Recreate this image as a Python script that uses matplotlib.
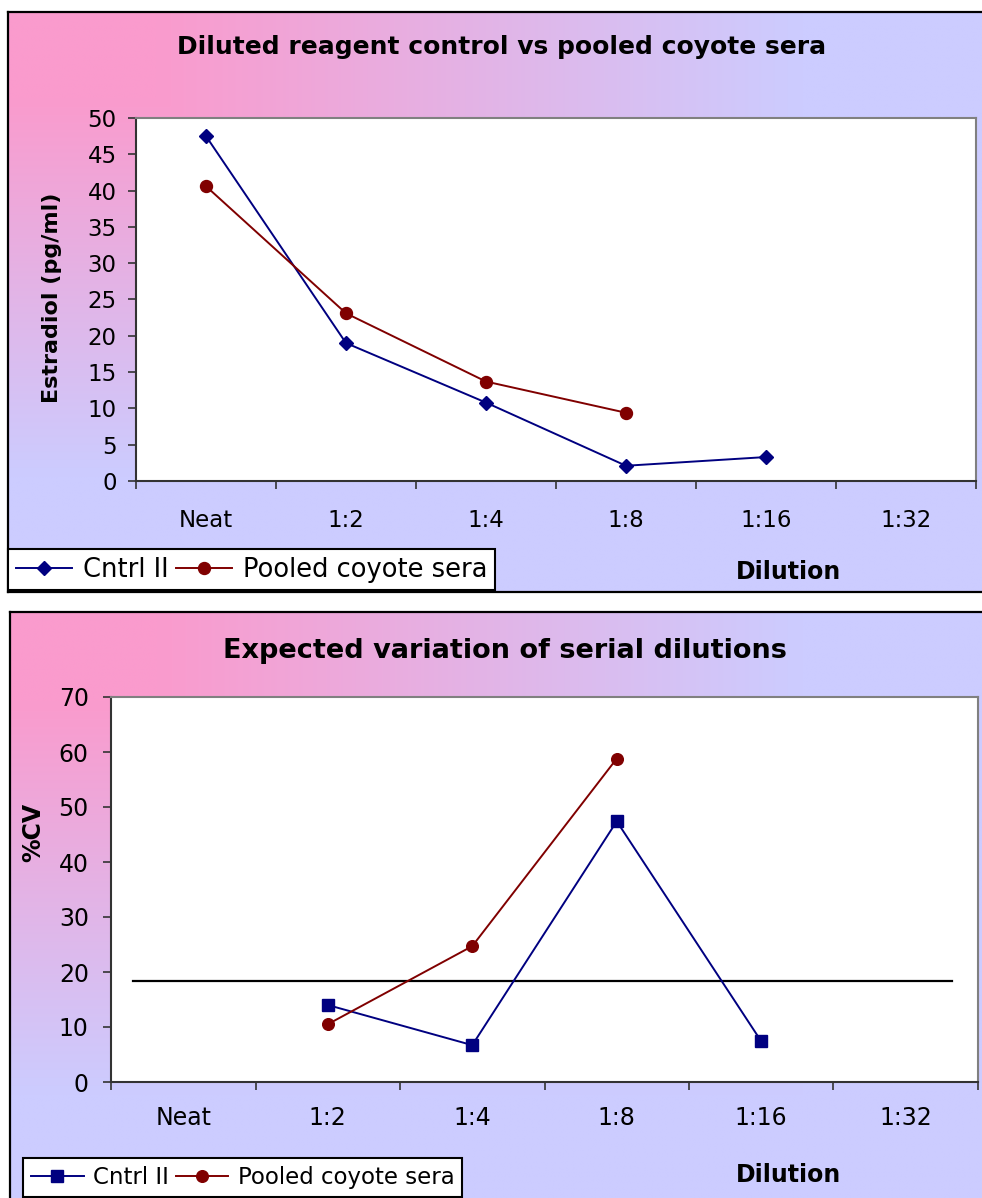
import numpy as np
import matplotlib
matplotlib.use("Agg")
import matplotlib.pyplot as plt
from matplotlib.lines import Line2D

# ---------------- data ----------------
categories = ["Neat", "1:2", "1:4", "1:8", "1:16", "1:32"]

# Panel 1: Estradiol (pg/ml)
cntrl_estradiol = [47.5, 19.0, 10.8, 2.1, 3.3, None]
pooled_estradiol = [40.6, 23.1, 13.7, 9.4, None, None]

# Panel 2: %CV
cntrl_cv = [None, 14.0, 6.7, 47.4, 7.4, None]
pooled_cv = [None, 10.5, 24.7, 58.8, None, None]
cv_limit = 18.3

title1 = "Diluted reagent control vs pooled coyote sera"
title2 = "Expected variation of serial dilutions"
series_names = ["Cntrl II", "Pooled coyote sera"]

NAVY = "#000080"
DARKRED = "#800000"
PINK = np.array([250, 155, 205]) / 255.0
LAV = np.array([204, 204, 255]) / 255.0

W, H = 982, 1198
fig = plt.figure(figsize=(W / 100, H / 100), dpi=100)


def rect(x0, y0, x1, y1):
    return [x0 / W, 1 - y1 / H, (x1 - x0) / W, (y1 - y0) / H]


def background(x0, y0, x1, y1):
    ax = fig.add_axes(rect(x0, y0, x1, y1))
    nx, ny = 400, 300
    xs = np.linspace(0, 1, nx)
    ys = np.linspace(0, 1, ny)
    X, Y = np.meshgrid(xs, ys)
    t = np.clip((np.maximum(X, Y) - 0.15) / 0.65, 0, 1)
    img = PINK[None, None, :] * (1 - t[..., None]) + LAV[None, None, :] * t[..., None]
    ax.imshow(img, extent=[0, 1, 1, 0], aspect="auto", interpolation="bilinear")
    ax.set_xlim(0, 1)
    ax.set_ylim(1, 0)
    ax.set_xticks([])
    ax.set_yticks([])
    for s in ax.spines.values():
        s.set_color("black")
        s.set_linewidth(1.6)
    return ax


def to_arr(v):
    return np.array([np.nan if x is None else x for x in v], dtype=float)


def style_plot(ax, ymax, ystep, fs, ypad, xpad):
    ax.set_facecolor("white")
    ax.set_xlim(-0.5, len(categories) - 0.5)
    ax.set_ylim(0, ymax)
    ax.set_yticks(np.arange(0, ymax + 0.1, ystep))
    ax.set_xticks(np.arange(len(categories)))
    ax.set_xticklabels(categories)
    ax.set_xticks(np.arange(-0.5, len(categories)), minor=True)
    ax.tick_params(axis="x", which="major", length=0, pad=xpad, labelsize=fs)
    ax.tick_params(axis="x", which="minor", length=5.5, width=1.2, direction="out", color="#333333")
    ax.tick_params(axis="y", length=6, width=1.2, direction="out", pad=ypad, labelsize=fs, color="#333333")
    for side in ["left", "bottom"]:
        ax.spines[side].set_color("#333333")
        ax.spines[side].set_linewidth(1.5)
    for side in ["top", "right"]:
        ax.spines[side].set_color("#808080")
        ax.spines[side].set_linewidth(1.5)


x = np.arange(len(categories))

# ---------------- panel 1 ----------------
background(8, 12, 1000, 592)
ax1 = fig.add_axes(rect(136, 118, 976, 481))
style_plot(ax1, 50, 5, 16.5, 8, 20)
ax1.plot(x, to_arr(cntrl_estradiol), color=NAVY, lw=1.4, marker="D", ms=7.4,
         label=series_names[0])
ax1.plot(x[:4], to_arr(pooled_estradiol)[:4], color=DARKRED, lw=1.4, marker="o", ms=8.6,
         label=series_names[1])
fig.text(502 / W, 1 - 47 / H, title1, ha="center", va="center", fontsize=18, fontweight="bold")
fig.text(52 / W, 1 - 298 / H, "Estradiol (pg/ml)", rotation=90, ha="center", va="center",
         fontsize=16, fontweight="bold")
fig.text(789 / W, 1 - 572 / H, "Dilution", ha="center", va="center", fontsize=17, fontweight="bold")
h1 = [Line2D([], [], color=NAVY, lw=1.4, marker="D", ms=7.4),
      Line2D([], [], color=DARKRED, lw=1.4, marker="o", ms=8.6)]
leg1 = ax1.legend(h1, series_names, ncol=2, loc="upper left",
                  bbox_to_anchor=(8 / W, 1 - 549 / H), bbox_transform=fig.transFigure,
                  fontsize=18.5, frameon=True, fancybox=False, framealpha=1, borderaxespad=0,
                  handlelength=2.2, handletextpad=0.4, columnspacing=0.3, borderpad=0.3)
leg1.get_frame().set_edgecolor("black")
leg1.get_frame().set_linewidth(1.5)

# ---------------- panel 2 ----------------
background(10, 612, 1000, 1215)
ax2 = fig.add_axes(rect(111, 697, 978, 1082))
style_plot(ax2, 70, 10, 17, 10, 17)
ax2.plot([-0.35, 5.32], [cv_limit, cv_limit], color="black", lw=1.6)
ax2.plot(x[1:5], to_arr(cntrl_cv)[1:5], color=NAVY, lw=1.4, marker="s", ms=8.3)
ax2.plot(x[1:4], to_arr(pooled_cv)[1:4], color=DARKRED, lw=1.4, marker="o", ms=8.4)
fig.text(505 / W, 1 - 651 / H, title2, ha="center", va="center", fontsize=19.5, fontweight="bold")
fig.text(33 / W, 1 - 832 / H, "%CV", rotation=90, ha="center", va="center",
         fontsize=17, fontweight="bold")
fig.text(789 / W, 1 - 1175 / H, "Dilution", ha="center", va="center", fontsize=17, fontweight="bold")
h2 = [Line2D([], [], color=NAVY, lw=1.4, marker="s", ms=8.3),
      Line2D([], [], color=DARKRED, lw=1.4, marker="o", ms=8.4)]
leg2 = ax2.legend(h2, series_names, ncol=2, loc="upper left",
                  bbox_to_anchor=(23 / W, 1 - 1158 / H), bbox_transform=fig.transFigure,
                  fontsize=16.5, frameon=True, fancybox=False, framealpha=1, borderaxespad=0,
                  handlelength=2.3, handletextpad=0.4, columnspacing=0.3, borderpad=0.35)
leg2.get_frame().set_edgecolor("black")
leg2.get_frame().set_linewidth(1.5)

fig.savefig("out.png", dpi=100)
